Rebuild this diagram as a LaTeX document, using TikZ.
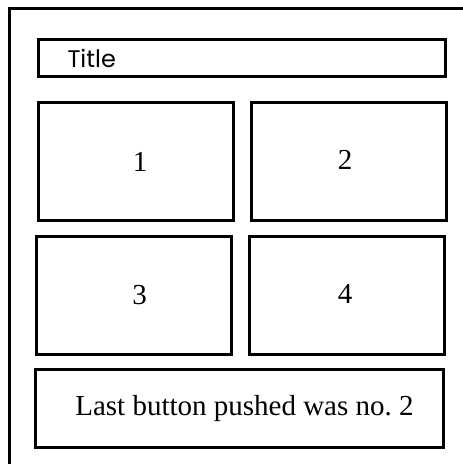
\documentclass[tikz,border=0pt]{standalone}
\usepackage{fontspec}
\setmainfont{Liberation Serif}
\newfontfamily\titlefont{Poppins}
\usetikzlibrary{positioning}
\tikzset{
  frame/.style={line width=3pt},
  panel/.style={draw, line width=3pt, outer sep=0pt, inner sep=0pt, align=center, font=\fontsize{29}{31}\selectfont},
  btn/.style={panel, minimum width=195pt, minimum height=118pt},
  titlebar/.style={draw, line width=3pt, outer sep=0pt, inner ysep=0pt, inner xsep=29pt, minimum height=37pt, text width=349pt, align=left, font=\titlefont\fontsize{24}{26}\selectfont}
}
\begin{document}
\begin{tikzpicture}[x=1pt, y=-1pt]
    \useasboundingbox (0,0) rectangle (463,464);
    \clip (0,0) rectangle (463,464);
    % window frame, cut off at the right and bottom
    \draw[frame] (9.5,8.5) rectangle (490,490);
    \node[titlebar] (title) at (242,58) {Title};
    \node[btn] (one) at (136,161.5) {\hspace*{8pt}1};
    \node[btn] (two) at (348.5,161.5) {\raisebox{4pt}{2}\hspace*{7pt}};
    \node[btn] (three) at (133.5,295.5) {\hspace*{12pt}3};
    \node[btn] (four) at (347,295.5) {\raisebox{4pt}{4}\hspace*{4pt}};
    \node[panel, minimum width=408pt, minimum height=78pt] (status) at (239.5,408.5) {\hspace*{10pt}Last button pushed was no.~2};
  \end{tikzpicture}
\end{document}
